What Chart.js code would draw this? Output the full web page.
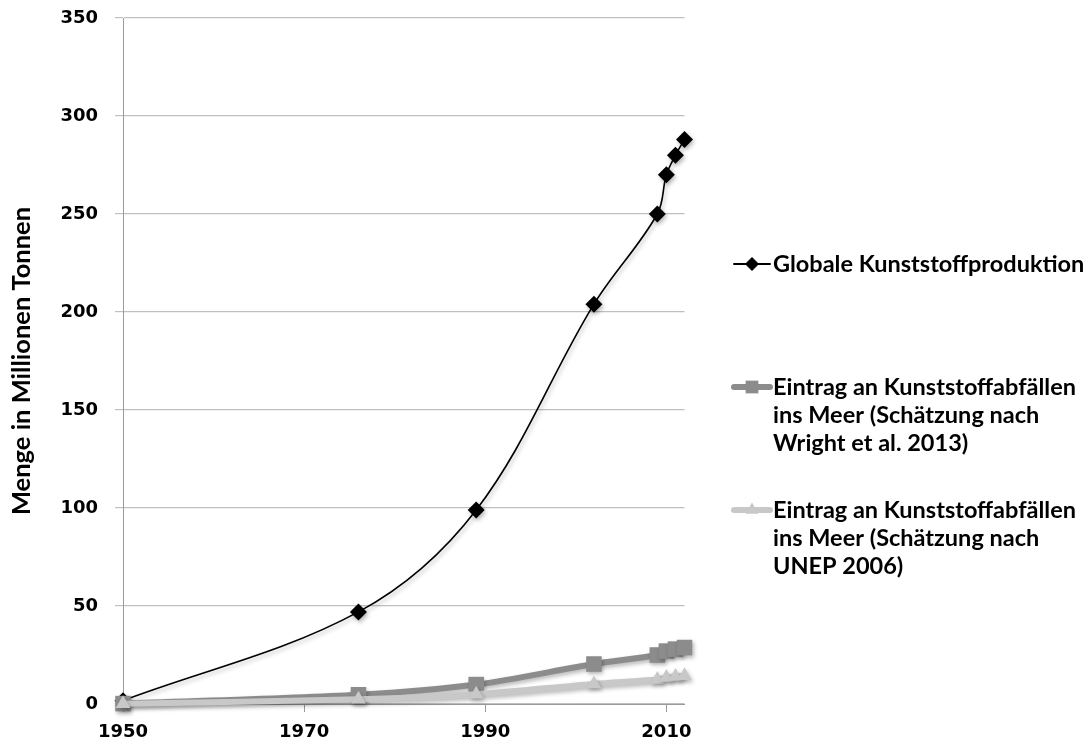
<!DOCTYPE html>
<html>
<head>
<meta charset="utf-8">
<script src="https://cdn.jsdelivr.net/npm/chart.js@4.4.0/dist/chart.umd.min.js"></script>
<style>
html,body{margin:0;padding:0;background:#fff;}
#wrap{width:1087px;height:749px;position:relative;}
canvas{display:block;}
</style>
</head>
<body>
<div id="wrap"><canvas id="c" width="1087" height="749"></canvas></div>
<script>
// ---- Data ----
const years = [1950, 1976, 1989, 2002, 2009, 2010, 2011, 2012];
const production = [1.7, 47, 99, 204, 250, 270, 280, 288];
const wright = [0.2, 4.7, 9.9, 20.4, 25, 27, 28, 28.8];
const unep = [0.1, 2.4, 5, 10.2, 12.5, 13.5, 14, 14.4];
const xTicks = [1950, 1970, 1990, 2010];
const yTicks = [0, 50, 100, 150, 200, 250, 300, 350];
const legendLines = [
  ['Globale Kunststoffproduktion'],
  ['Eintrag an Kunststoffabfällen', 'ins Meer (Schätzung nach', 'Wright et al. 2013)'],
  ['Eintrag an Kunststoffabfällen', 'ins Meer (Schätzung nach', 'UNEP 2006)']
];
const yTitle = 'Menge in Millionen Tonnen';

const toXY = (vals) => years.map((y, i) => ({x: y, y: vals[i]}));

const shadowPlugin = {
  id: 'shadow',
  beforeDatasetsDraw(chart) {
    const ctx = chart.ctx;
    ctx.save();
    ctx.shadowColor = 'rgba(0,0,0,0.28)';
    ctx.shadowBlur = 4;
    ctx.shadowOffsetX = 1.5;
    ctx.shadowOffsetY = 2.5;
  },
  afterDatasetsDraw(chart) {
    chart.ctx.restore();
  }
};

const sideLegend = {
  id: 'sideLegend',
  afterDraw(chart, args, opts) {
    const ctx = chart.ctx;
    ctx.save();
    ctx.font = opts.font;
    ctx.textBaseline = 'middle';
    ctx.textAlign = 'left';
    chart.data.datasets.forEach((ds, i) => {
      const y0 = opts.ys[i];
      ctx.save();
      ctx.strokeStyle = ds.borderColor;
      ctx.lineWidth = opts.lineWidths[i];
      ctx.lineCap = 'round';
      ctx.beginPath();
      ctx.moveTo(opts.x0, y0);
      ctx.lineTo(opts.x1, y0);
      ctx.stroke();
      ctx.fillStyle = ds.pointBackgroundColor;
      ctx.strokeStyle = ds.pointBackgroundColor;
      Chart.helpers.drawPoint(ctx, {pointStyle: ds.pointStyle, rotation: 0, radius: opts.radii[i], borderWidth: 0}, (opts.x0 + opts.x1) / 2, y0);
      ctx.restore();
      ctx.fillStyle = '#000';
      legendLines[i].forEach((t, k) => {
        ctx.fillText(t, opts.textX, y0 + k * opts.lineHeight);
      });
    });
    ctx.restore();
  }
};

const pad = {left: 0, right: 402, top: 18, bottom: 0};

const chart = new Chart(document.getElementById('c'), {
  type: 'line',
  data: {
    datasets: [
      {
        label: legendLines[0].join(' '),
        data: toXY(production),
        borderColor: '#000000',
        backgroundColor: '#000000',
        borderWidth: 1.6,
        tension: 0.35,
        pointStyle: 'rectRot',
        pointRadius: 8.5,
        pointBackgroundColor: '#000000',
        pointBorderWidth: 0,
        order: 3,
        clip: false
      },
      {
        label: legendLines[1].join(' '),
        data: toXY(wright),
        borderColor: '#8c8c8c',
        backgroundColor: '#8c8c8c',
        borderWidth: 6,
        tension: 0.3,
        pointStyle: 'rect',
        pointRadius: 11,
        pointBackgroundColor: '#8c8c8c',
        pointBorderWidth: 0,
        order: 2,
        clip: false
      },
      {
        label: legendLines[2].join(' '),
        data: toXY(unep),
        borderColor: '#c8c8c8',
        backgroundColor: '#c8c8c8',
        borderWidth: 6,
        tension: 0.3,
        pointStyle: 'triangle',
        pointRadius: 8.5,
        pointBackgroundColor: '#c8c8c8',
        pointBorderWidth: 0,
        order: 1,
        clip: false
      }
    ]
  },
  options: {
    responsive: false,
    animation: false,
    devicePixelRatio: 1,
    layout: {padding: pad, autoPadding: false},
    plugins: {
      legend: {display: false},
      tooltip: {enabled: false},
      sideLegend: {
        font: 'bold 23.5px Lato',
        x0: 734, x1: 770, textX: 773,
        ys: [264, 387, 510],
        lineHeight: 28.2,
        lineWidths: [2, 6, 6],
        radii: [7, 9, 7.5]
      }
    },
    scales: {
      x: {
        type: 'linear',
        min: 1950,
        max: 2012,
        afterBuildTicks: (s) => { s.ticks = xTicks.map(v => ({value: v})); },
        afterFit: (s) => { s.height = 45; },
        grid: {drawOnChartArea: false, drawTicks: true, tickLength: 8, color: '#9a9a9a', lineWidth: 1},
        border: {display: true, color: '#9a9a9a', width: 1},
        ticks: {
          color: '#000',
          font: {family: 'DejaVu Sans', weight: 'bold', size: 18},
          padding: 10,
          maxRotation: 0,
          autoSkip: false,
          callback: (v) => String(v)
        }
      },
      y: {
        min: 0,
        max: 350,
        afterBuildTicks: (s) => { s.ticks = yTicks.map(v => ({value: v})); },
        afterFit: (s) => { s.width = 123; s.paddingTop = 0; s.paddingBottom = 0; },
        grid: {color: '#c0c0c0', lineWidth: 1.2, tickLength: 8, drawTicks: true},
        border: {display: true, color: '#9a9a9a', width: 1},
        ticks: {
          color: '#000',
          font: {family: 'DejaVu Sans', weight: 'bold', size: 18},
          padding: 17
        },
        title: {
          display: true,
          text: yTitle,
          color: '#000',
          font: {family: 'Lato', weight: 'bold', size: 25.5},
          padding: {top: 6, bottom: 0}
        }
      }
    }
  },
  plugins: [shadowPlugin, sideLegend]
});

// Fine-tune the plot area so it sits where the reference has it
const target = {top: 18, bottom: 704, right: 684.5};
for (let k = 0; k < 4; k++) {
  const ca = chart.chartArea;
  pad.top = Math.max(0, pad.top + (target.top - ca.top));
  pad.bottom = Math.max(0, pad.bottom + (ca.bottom - target.bottom));
  pad.right = Math.max(0, pad.right + (ca.right - target.right));
  chart.options.layout.padding = Object.assign({}, pad);
  chart.update('none');
}
</script>
</body>
</html>
